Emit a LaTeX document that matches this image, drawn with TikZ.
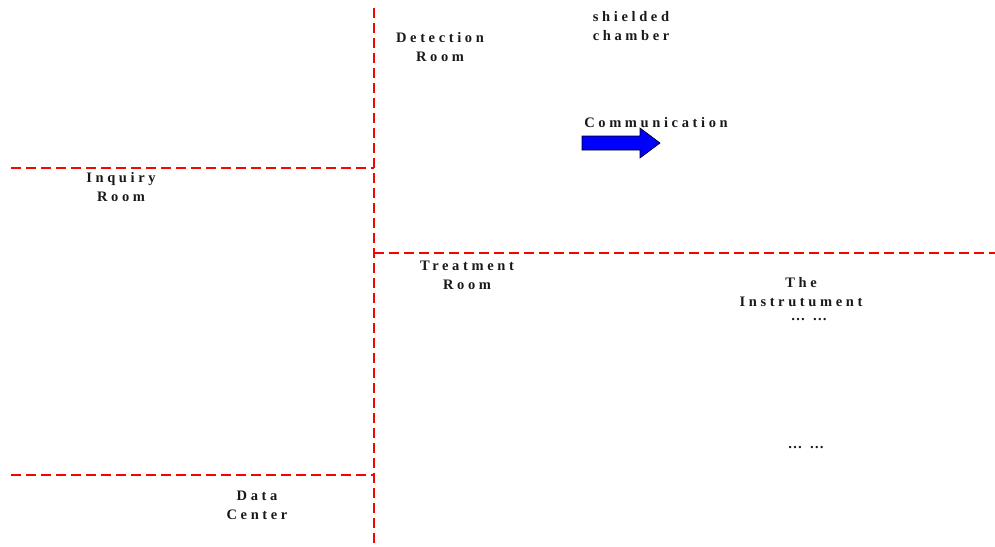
\documentclass[tikz,border=0pt]{standalone}
\usepackage{fontspec}
\setmainfont{Liberation Serif}
\newfontfamily\lbl[LetterSpace=25,UprightFont={* Bold}]{Liberation Serif}
\begin{document}
\begin{tikzpicture}[x=1pt,y=-1pt,
  wall/.style={draw=red,line width=2pt,dash pattern=on 10pt off 5pt},
  lab/.style={font=\lbl\fontsize{14.5}{19}\selectfont,align=center,inner sep=0pt,text=black!90},
  blockarrow/.style={fill=blue,draw=black,line width=0.6pt,line join=miter}]
\useasboundingbox (0,0) rectangle (995,546);
% walls
\coordinate (vt) at (374,8);
\coordinate (vb) at (374,546);
\coordinate (h1l) at (11,168);
\coordinate (h1r) at (374,168);
\coordinate (h2l) at (374,253);
\coordinate (h2r) at (995,253);
\coordinate (h3l) at (11,475);
\coordinate (h3r) at (374,475);
\draw[wall] (vt) -- (vb);
\draw[wall] (h1l) -- (h1r);
\draw[wall] (h2l) -- (h2r);
\draw[wall] (h3l) -- (h3r);
% labels
\node[lab] (shield) at (631,26) {shielded\\chamber};
\node[lab] (detect) at (440,47) {Detection\\Room};
\node[lab] (comm) at (656,123) {Communication};
\node[lab] (inq) at (121,187) {Inquiry\\Room};
\node[lab] (treat) at (467,275) {Treatment\\Room};
\node[lab] (instr) at (801,292) {The\\Instrutument};
\node[lab] (dots1) at (809,320) {… …};
\node[lab] (dots2) at (806,448) {… …};
\node[lab] (data) at (257,505) {Data\\Center};
% communication arrow
\draw[blockarrow] (582,136) -- (640,136) -- (640,128) -- (660,143) -- (640,158) -- (640,150) -- (582,150) -- cycle;
\end{tikzpicture}
\end{document}
